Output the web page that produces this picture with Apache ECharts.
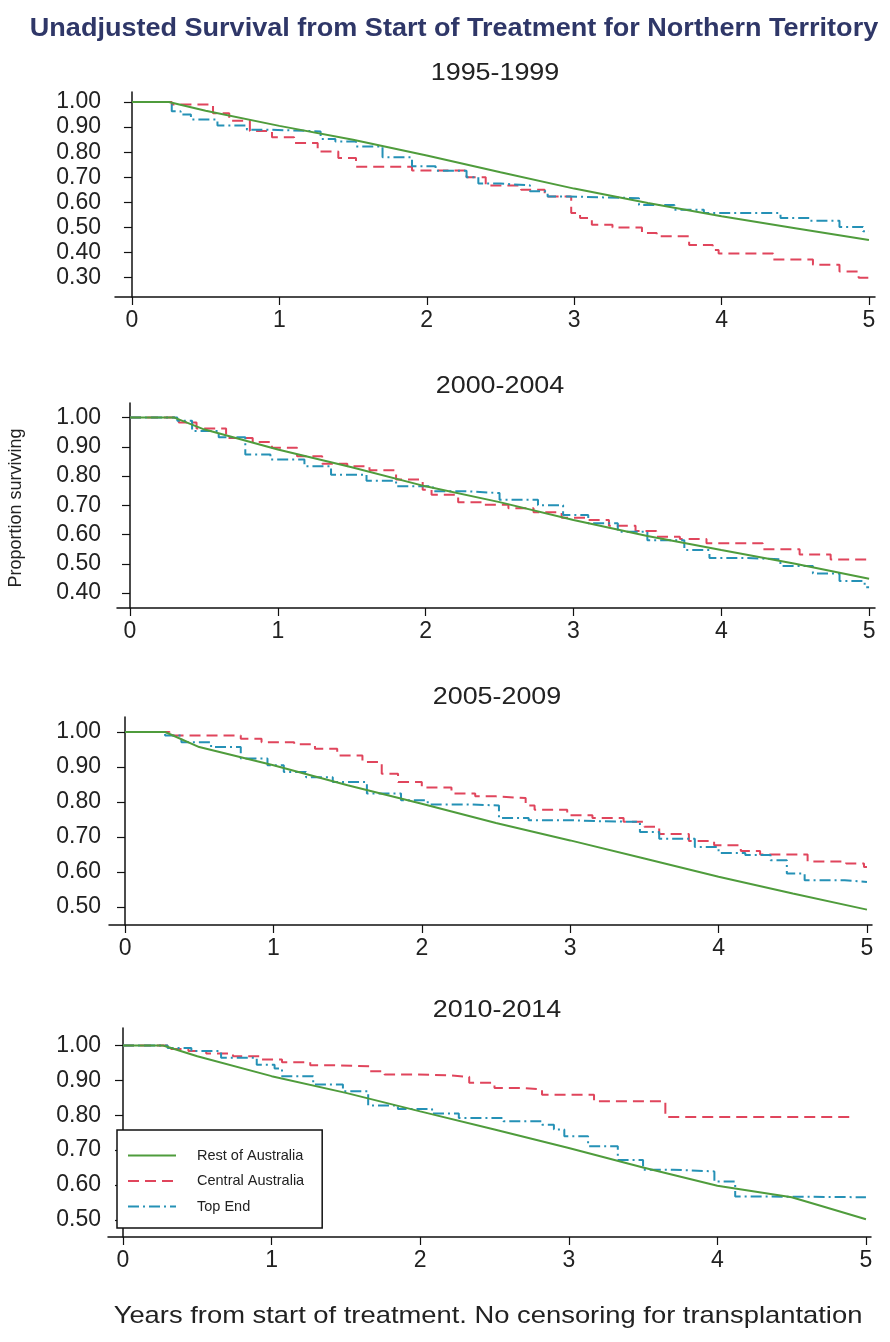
<!DOCTYPE html>
<html lang="en">
<head>
<meta charset="UTF-8">
<title>Unadjusted Survival - Northern Territory</title>
<script src="https://cdn.jsdelivr.net/npm/echarts@6/dist/echarts.min.js"></script>
<style>
  html, body { margin: 0; padding: 0; background: #fff; }
  #main { width: 890px; height: 1342px; }
</style>
</head>
<body>
<div id="main"></div>
<script>
// ---- data: [years, proportion surviving] ----
var yearTicks = [0, 1, 2, 3, 4, 5];
var periods = ['1995-1999', '2000-2004', '2005-2009', '2010-2014'];
var seriesNames = ['Rest of Australia', 'Central Australia', 'Top End'];

var yTicks1995 = [0.3, 0.4, 0.5, 0.6, 0.7, 0.8, 0.9, 1.0];
var yTicks2000 = [0.4, 0.5, 0.6, 0.7, 0.8, 0.9, 1.0];
var yTicks2005 = [0.5, 0.6, 0.7, 0.8, 0.9, 1.0];
var yTicks2010 = [0.5, 0.6, 0.7, 0.8, 0.9, 1.0];

var rest1995 = [[0,1],[0.25,1],[0.5,0.965],[1,0.905],[1.5,0.85],[2,0.787],[2.5,0.72],[3,0.655],[3.5,0.598],[4,0.545],[4.5,0.497],[5,0.45]];
var central1995 = [[0,1],[0.27,0.99],[0.55,0.955],[0.66,0.925],[0.8,0.885],[0.95,0.86],[1.1,0.837],[1.26,0.803],[1.4,0.777],[1.52,0.742],[1.9,0.727],[2.27,0.70],[2.4,0.667],[2.64,0.65],[2.8,0.624],[2.98,0.558],[3.04,0.538],[3.12,0.511],[3.26,0.50],[3.46,0.478],[3.56,0.465],[3.78,0.43],[3.94,0.41],[3.98,0.396],[4.35,0.372],[4.62,0.352],[4.8,0.325],[4.93,0.30],[5,0.30]];
var topEnd1995 = [[0,1],[0.27,0.963],[0.33,0.95],[0.4,0.93],[0.58,0.906],[0.78,0.89],[0.92,0.883],[1.28,0.853],[1.38,0.843],[1.52,0.823],[1.7,0.78],[1.9,0.744],[2.06,0.726],[2.27,0.70],[2.35,0.675],[2.5,0.668],[2.7,0.644],[2.82,0.624],[2.96,0.62],[3.2,0.617],[3.44,0.59],[3.68,0.571],[3.88,0.558],[4.4,0.538],[4.6,0.527],[4.8,0.502],[4.96,0.485],[5,0.485]];

var rest2000 = [[0,1],[0.3,1],[0.5,0.96],[1,0.891],[1.5,0.83],[2,0.765],[2.5,0.711],[3,0.65],[3.5,0.595],[4,0.547],[4.5,0.50],[5,0.449]];
var central2000 = [[0,1],[0.33,0.983],[0.45,0.963],[0.65,0.93],[0.83,0.917],[0.96,0.897],[1.13,0.868],[1.3,0.842],[1.47,0.834],[1.62,0.82],[1.8,0.788],[1.98,0.753],[2.04,0.736],[2.22,0.711],[2.38,0.702],[2.56,0.69],[2.73,0.676],[2.92,0.658],[3.08,0.65],[3.24,0.63],[3.42,0.612],[3.56,0.593],[3.72,0.585],[3.9,0.57],[4.28,0.55],[4.53,0.532],[4.74,0.515],[5,0.515]];
var topEnd2000 = [[0,1],[0.32,0.989],[0.42,0.954],[0.6,0.933],[0.78,0.874],[0.95,0.857],[1.18,0.834],[1.36,0.805],[1.6,0.784],[1.8,0.765],[2.05,0.748],[2.28,0.742],[2.5,0.719],[2.76,0.70],[2.93,0.667],[3.1,0.639],[3.3,0.61],[3.5,0.581],[3.75,0.547],[3.92,0.52],[4.15,0.516],[4.4,0.493],[4.62,0.467],[4.8,0.441],[4.97,0.42],[5,0.42]];

var rest2005 = [[0,1],[0.27,1],[0.5,0.957],[1,0.905],[1.5,0.848],[2,0.795],[2.5,0.74],[3,0.69],[3.5,0.638],[4,0.586],[4.5,0.538],[5,0.492]];
var central2005 = [[0,1],[0.3,0.99],[0.78,0.981],[0.92,0.971],[1.14,0.965],[1.28,0.952],[1.43,0.933],[1.6,0.914],[1.73,0.881],[1.84,0.857],[2.0,0.841],[2.2,0.824],[2.36,0.816],[2.5,0.811],[2.7,0.79],[2.76,0.778],[2.98,0.762],[3.15,0.754],[3.36,0.743],[3.5,0.729],[3.6,0.708],[3.8,0.688],[3.97,0.676],[4.15,0.66],[4.28,0.65],[4.6,0.63],[4.86,0.624],[4.98,0.614],[5,0.614]];
var topEnd2005 = [[0,1],[0.27,0.99],[0.38,0.971],[0.58,0.957],[0.78,0.924],[0.96,0.905],[1.07,0.886],[1.22,0.871],[1.4,0.857],[1.63,0.824],[1.86,0.805],[2.04,0.793],[2.3,0.79],[2.52,0.754],[2.72,0.748],[2.98,0.745],[3.2,0.743],[3.47,0.714],[3.6,0.695],[3.84,0.671],[4.0,0.654],[4.18,0.648],[4.35,0.633],[4.46,0.595],[4.58,0.576],[4.85,0.571],[5,0.571]];

var rest2010 = [[0,1],[0.27,1],[0.5,0.969],[1,0.912],[1.5,0.864],[2,0.811],[2.5,0.759],[3,0.706],[3.5,0.65],[4,0.598],[4.5,0.565],[4.7,0.54],[5,0.502]];
var central2010 = [[0,1],[0.3,0.99],[0.44,0.984],[0.56,0.977],[0.74,0.969],[0.93,0.96],[1.07,0.952],[1.26,0.943],[1.43,0.94],[1.66,0.926],[1.76,0.917],[1.98,0.914],[2.2,0.91],[2.33,0.893],[2.5,0.878],[2.7,0.874],[2.82,0.859],[3.17,0.84],[3.65,0.795],[4.9,0.795]];
var topEnd2010 = [[0,1],[0.3,0.993],[0.46,0.984],[0.66,0.965],[0.9,0.945],[1.02,0.934],[1.07,0.912],[1.28,0.888],[1.48,0.869],[1.65,0.828],[1.85,0.818],[2.08,0.805],[2.26,0.792],[2.56,0.783],[2.82,0.773],[2.9,0.759],[2.97,0.74],[3.13,0.711],[3.33,0.672],[3.5,0.644],[3.7,0.639],[3.98,0.61],[4.12,0.567],[4.3,0.565],[5,0.565]];

// ---- layout of the four panels (pixels) and axis ranges ----
var panels = [
  { left: 115, top: 92,   width: 760, height: 205, xMin: -0.115, xMax: 5.041, yMin: 0.223, yMax: 1.04,  yTicks: yTicks1995, data: [rest1995, central1995, topEnd1995], titleX: 495, titleY: 73 },
  { left: 117, top: 403,  width: 758, height: 205, xMin: -0.088, xMax: 5.04,  yMin: 0.349, yMax: 1.05,  yTicks: yTicks2000, data: [rest2000, central2000, topEnd2000], titleX: 500, titleY: 386 },
  { left: 109, top: 717,  width: 763, height: 208, xMin: -0.108, xMax: 5.034, yMin: 0.448, yMax: 1.043, yTicks: yTicks2005, data: [rest2005, central2005, topEnd2005], titleX: 497, titleY: 697 },
  { left: 108, top: 1028, width: 763, height: 209, xMin: -0.101, xMax: 5.034, yMin: 0.451, yMax: 1.05,  yTicks: yTicks2010, data: [rest2010, central2010, topEnd2010], titleX: 497, titleY: 1010 }
];

var colors = ['#4f9c3c', '#e0455c', '#2591b6'];
var dashes = ['solid', [11, 6], [11, 4, 2, 4]];
var font = 'Liberation Sans';

var chart = echarts.init(document.getElementById('main'));

function textEl(str, x, y, css, extra) {
  var el = {
    type: 'text', x: x, y: y,
    style: { text: str, fill: '#222', font: css, align: 'center', verticalAlign: 'middle',
      textAlign: 'center', textVerticalAlign: 'middle' }
  };
  for (var k in extra) el[k] = extra[k];
  return el;
}

var grids = [], xAxes = [], yAxes = [], series = [], graphics = [];
panels.forEach(function (p, i) {
  grids.push({ left: p.left, top: p.top, width: p.width, height: p.height });
  xAxes.push({
    type: 'value', gridIndex: i, min: p.xMin, max: p.xMax,
    axisLine: { lineStyle: { color: '#111', width: 1.5 } },
    axisTick: { customValues: yearTicks, length: 8, lineStyle: { color: '#111', width: 1.2 } },
    axisLabel: { customValues: yearTicks, color: '#222', fontFamily: font, fontSize: 23, margin: 12 },
    splitLine: { show: false }
  });
  yAxes.push({
    type: 'value', gridIndex: i, min: p.yMin, max: p.yMax,
    axisLine: { show: true, lineStyle: { color: '#111', width: 1.5 } },
    axisTick: { show: true, customValues: p.yTicks, length: 8, lineStyle: { color: '#111', width: 1.2 } },
    axisLabel: { customValues: p.yTicks, color: '#222', fontFamily: font, fontSize: 23, margin: p.left - 101,
      formatter: function (v) { return v.toFixed(2); } },
    splitLine: { show: false }
  });
  seriesNames.forEach(function (name, k) {
    series.push({
      name: name, type: 'line', xAxisIndex: i, yAxisIndex: i,
      data: p.data[k], step: k === 0 ? false : 'end',
      symbol: 'none', color: colors[k],
      lineStyle: { color: colors[k], width: 2, type: dashes[k] },
      z: k === 0 ? 3 : 2
    });
  });
  graphics.push(textEl(periods[i], p.titleX, p.titleY, '24px "Liberation Sans"', { scaleX: 1.12 }));
});

graphics.push(textEl('Unadjusted Survival from Start of Treatment for Northern Territory', 454, 29,
  'bold 26px "Liberation Sans"', { scaleX: 1.04 }));
graphics[graphics.length - 1].style.fill = '#2f3768';
graphics.push(textEl('Years from start of treatment. No censoring for transplantation', 488, 1316,
  '24px "Liberation Sans"', { scaleX: 1.14 }));
graphics.push(textEl('Proportion surviving', 16, 508, '18px "Liberation Sans"', { rotation: Math.PI / 2 }));

var option = {
  animation: false,
  backgroundColor: '#fff',
  grid: grids,
  xAxis: xAxes,
  yAxis: yAxes,
  legend: {
    data: seriesNames,
    orient: 'vertical',
    left: 117, top: 1130,
    padding: [18, 18, 14, 10],
    itemGap: 10.5,
    itemWidth: 48, itemHeight: 12,
    itemStyle: { opacity: 0 },
    backgroundColor: '#fff',
    borderColor: '#111', borderWidth: 1.5,
    selectedMode: false,
    textStyle: { color: '#222', fontFamily: font, fontSize: 14.5, padding: [0, 0, 0, 16] }
  },
  graphic: graphics,
  series: series
};
chart.setOption(option);
</script>
</body>
</html>
